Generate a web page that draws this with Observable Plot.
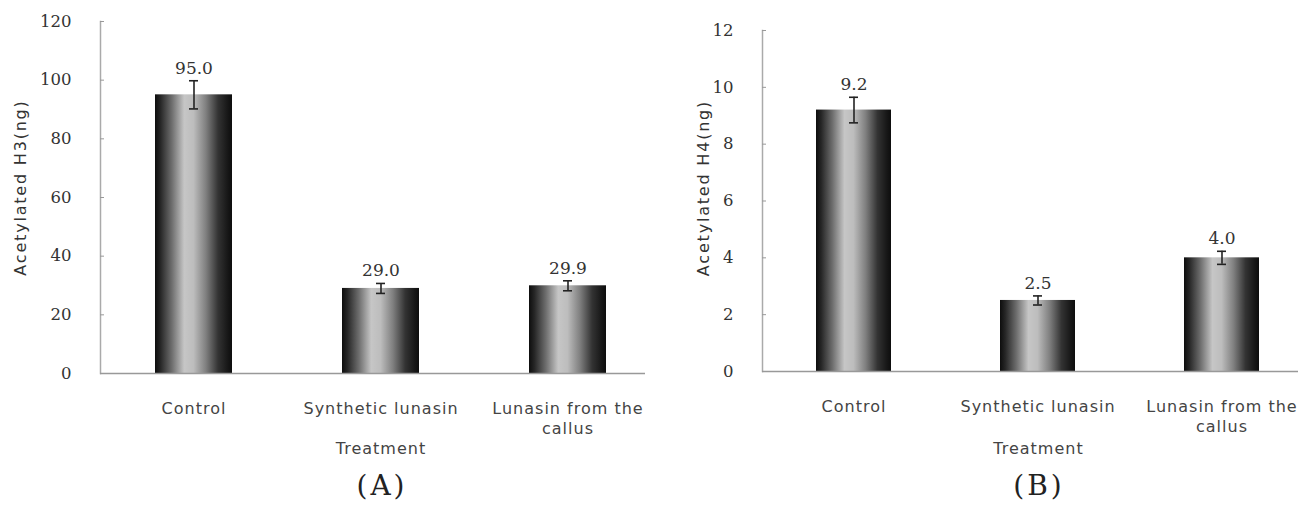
<!DOCTYPE html>
<html>
<head>
<meta charset="utf-8">
<script src="https://cdn.jsdelivr.net/npm/d3@7"></script>
<script src="https://cdn.jsdelivr.net/npm/@observablehq/plot@0.6"></script>
<style>
  html, body { margin: 0; padding: 0; background: #fff; overflow: hidden; }
  #wrap { position: relative; width: 1306px; height: 508px; overflow: hidden; }
  .panel { position: absolute; top: 0; }
  .panel svg { max-width: none !important; letter-spacing: 1px; }
  .panel svg .num text, .panel svg g[aria-label="y-axis tick label"] text { letter-spacing: 0px; }
  .panel svg .ytitle text { letter-spacing: 1.8px; }
  .cap { position: absolute; font-family: "DejaVu Serif", "Liberation Serif", serif; font-size: 28px; letter-spacing: 3px; color: #222; transform: translateX(-50%); }
</style>
</head>
<body>
<div id="wrap">
  <div id="pA" class="panel" style="left:0px"></div>
  <div id="pB" class="panel" style="left:662px"></div>
  <div class="cap" style="left:382px; top:469px">(A)</div>
  <div class="cap" style="left:1039px; top:469px">(B)</div>
</div>
<script>
// ---- data ----
const treatments = ["Control", "Synthetic lunasin", "Lunasin from the\ncallus"];
const h3Values = [95.0, 29.0, 29.9];
const h3Errors = [4.8, 1.7, 1.7];
const h3Labels = ["95.0", "29.0", "29.9"];
const h3Ticks = [0, 20, 40, 60, 80, 100, 120];
const h4Values = [9.2, 2.5, 4.0];
const h4Errors = [0.45, 0.16, 0.23];
const h4Labels = ["9.2", "2.5", "4.0"];
const h4Ticks = [0, 2, 4, 6, 8, 10, 12];

const sans = "'DejaVu Sans', sans-serif";
const serif = "'DejaVu Serif', serif";

function makePanel(values, errors, labels, ticks, yMax, yTitle, gradId, opts) {
  const data = treatments.map((t, i) => ({t, v: values[i], e: errors[i], lab: labels[i]}));
  const svg = Plot.plot({
    width: opts.width,
    height: 470,
    marginLeft: 100,
    marginRight: opts.marginRight,
    marginTop: opts.marginTop,
    marginBottom: opts.marginBottom,
    style: {fontFamily: sans, color: "#333", background: "transparent"},
    x: {domain: treatments, paddingInner: 0.59, paddingOuter: 0.295, label: null},
    y: {domain: [0, yMax], ticks: ticks, label: null},
    marks: [
      Plot.barY(data, {x: "t", y: "v", fill: `url(#${gradId})`}),
      Plot.frame({anchor: "left", stroke: "#aaa", strokeWidth: 1.5}),
      Plot.ruleY([0], {stroke: "#999", strokeWidth: 1.5, insetRight: opts.axisInsetRight}),
      Plot.axisY({ticks: ticks, tickSize: -4, tickPadding: 33, stroke: "#999",
        fontFamily: serif, fontSize: 16.5, fill: "#333"}),
      Plot.axisX({tickSize: 0, tickPadding: 26, fontFamily: sans, fontSize: 16,
        fill: "#444", lineHeight: 1.25, label: null}),
      Plot.ruleX(data, {x: "t", y1: d => d.v - d.e, y2: d => d.v + d.e, stroke: "#222", strokeWidth: 1.6}),
      Plot.tickY(data, {x: "t", y: d => d.v + d.e, stroke: "#222", strokeWidth: 1.6, insetLeft: opts.capInset, insetRight: opts.capInset}),
      Plot.tickY(data, {x: "t", y: d => d.v - d.e, stroke: "#222", strokeWidth: 1.6, insetLeft: opts.capInset, insetRight: opts.capInset}),
      Plot.text(data, {x: "t", y: d => d.v + d.e, text: "lab", dy: -7, lineAnchor: "bottom",
        fontFamily: serif, fontSize: 17, fill: "#333", className: "num"}),
      Plot.text(["Treatment"], {frameAnchor: "bottom", dy: opts.treatDy, lineAnchor: "middle",
        fontFamily: sans, fontSize: 16, fill: "#444"}),
      Plot.text([yTitle], {frameAnchor: "left", dx: opts.titleDx, dy: opts.titleDy, rotate: -90,
        textAnchor: "middle", fontFamily: sans, fontSize: 16, fill: "#333", className: "ytitle"})
    ]
  });
  svg.style.maxWidth = "none";
  // cylindrical shading gradient
  const defs = d3.select(svg).insert("defs", ":first-child");
  const g = defs.append("linearGradient").attr("id", gradId)
    .attr("x1", "0%").attr("x2", "100%").attr("y1", "0%").attr("y2", "0%");
  [[0, "#0d0d0d"], [0.07, "#262626"], [0.22, "#6e6e6e"], [0.38, "#c6c6c6"], [0.5, "#bdbdbd"],
   [0.66, "#808080"], [0.82, "#333"], [0.94, "#181818"], [1, "#0d0d0d"]]
    .forEach(([o, c]) => g.append("stop").attr("offset", o).attr("stop-color", c));
  return svg;
}

document.getElementById("pA").appendChild(
  makePanel(h3Values, h3Errors, h3Labels, h3Ticks, 120, "Acetylated H3(ng)", "gradA",
    {width: 665, marginRight: 4, marginTop: 21, marginBottom: 97, axisInsetRight: 16,
     capInset: 34, treatDy: 75, titleDx: -80, titleDy: -10}));

document.getElementById("pB").appendChild(
  makePanel(h4Values, h4Errors, h4Labels, h4Ticks, 12, "Acetylated H4(ng)", "gradB",
    {width: 652, marginRight: 0, marginTop: 30, marginBottom: 99, axisInsetRight: 16,
     capInset: 33, treatDy: 77, titleDx: -59, titleDy: -13}));
</script>
</body>
</html>
